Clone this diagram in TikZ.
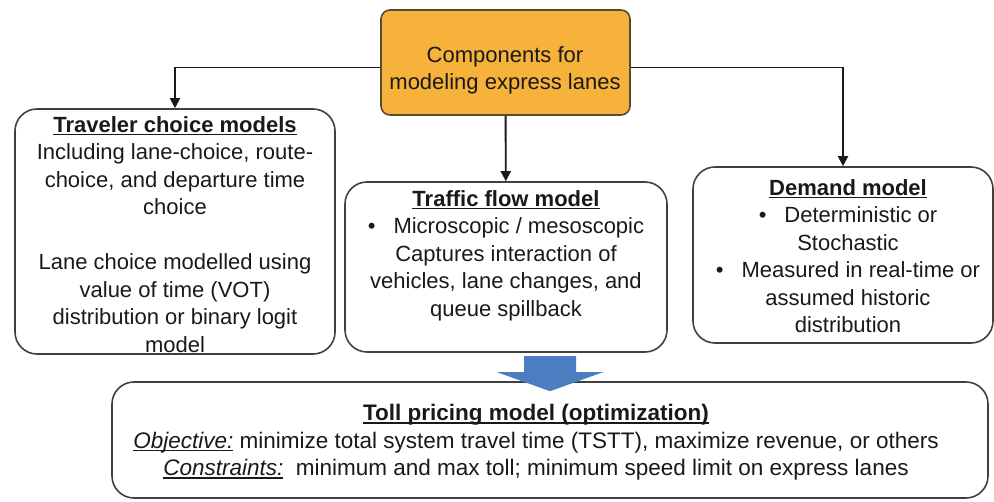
\documentclass[tikz,border=0pt]{standalone}
\usepackage{fontspec}
\setmainfont{Liberation Sans}
\usetikzlibrary{arrows.meta,calc}

\definecolor{boxorange}{RGB}{246,178,58}
\definecolor{boxline}{RGB}{64,64,64}
\definecolor{topline}{RGB}{90,74,50}
\definecolor{blockblue}{RGB}{74,126,193}
\definecolor{inkgray}{RGB}{25,25,25}

% underline with a fixed depth, and bold underlined box headings
\newsavebox{\ulbox}
\newcommand{\ulin}[1]{\sbox\ulbox{#1}\rlap{\rule[-3pt]{\wd\ulbox}{1.4pt}}\usebox\ulbox}
\newcommand{\hd}[1]{\ulin{\textbf{#1}}}

\begin{document}
\begin{tikzpicture}[x=1pt, y=-1pt,
    box/.style={draw=boxline, line width=1.6pt, rounded corners=22pt, inner sep=0pt},
    txt/.style={anchor=north, align=center, inner sep=0pt, text=inkgray, font=\fontsize{22}{27.5}\selectfont},
    conn/.style={-{Triangle[length=10pt,width=10pt]}, line width=1.9pt, draw=inkgray}
]
\useasboundingbox (0,0) rectangle (994,502);

% Boxes
\node[box, fill=boxorange, draw=topline, rounded corners=9pt, minimum width=249pt, minimum height=105pt] (comp) at (505.5,62.5) {};
\node[box, minimum width=320pt, minimum height=245pt] (travel) at (175,231.5) {};
\node[box, minimum width=322pt, minimum height=170pt] (flow) at (506,267) {};
\node[box, minimum width=300pt, minimum height=176pt] (demand) at (843,255) {};
\node[box, minimum width=876pt, minimum height=116pt] (toll) at (550,440) {};

% Texts
\node[txt] (comptxt) at (505,46) {Components for\\modeling express lanes};
\node[txt] (traveltxt) at (175,116) {\hd{Traveler choice models}\\Including lane-choice, route-\\choice, and departure time\\choice\\[27.5pt]Lane choice modelled using\\value of time (VOT)\\distribution or binary logit\\model};
\node[txt] (flowtxt) at (506,190) {\hd{Traffic flow model}\\\textbullet\hspace{18pt}Microscopic / mesoscopic\\Captures interaction of\\vehicles, lane changes, and\\queue spillback};
\node[txt] (demandtxt) at (848,179) {\hd{Demand model}\\\textbullet\hspace{18pt}Deterministic or\\Stochastic\\\textbullet\hspace{18pt}Measured in real-time or\\assumed historic\\distribution};
\node[txt, font=\fontsize{22.5}{27.5}\selectfont] (tolltxt) at (536,404) {\hd{Toll pricing model (optimization)}\\\ulin{\textit{Objective:}} minimize total system travel time (TSTT), maximize revenue, or others\\\ulin{\textit{Constraints:}}\ \ minimum and max toll; minimum speed limit on express lanes};

% Arrows
\draw[conn] ([yshift=-5pt]comp.west) -| (travel);
\draw[conn] ([yshift=-5pt]comp.east) -| (demand);
\draw[conn] (comp) -- (flow);

% Block arrow into the toll box
\fill[blockblue] ($(toll.north)+(-26,-25)$) -- ++(52,0) -- ++(0,16) -- ++(27,0)
    -- ($(toll.north)+(0,10)$) -- ($(toll.north)+(-53,-9)$) -- ++(27,0) -- cycle;
\end{tikzpicture}
\end{document}
